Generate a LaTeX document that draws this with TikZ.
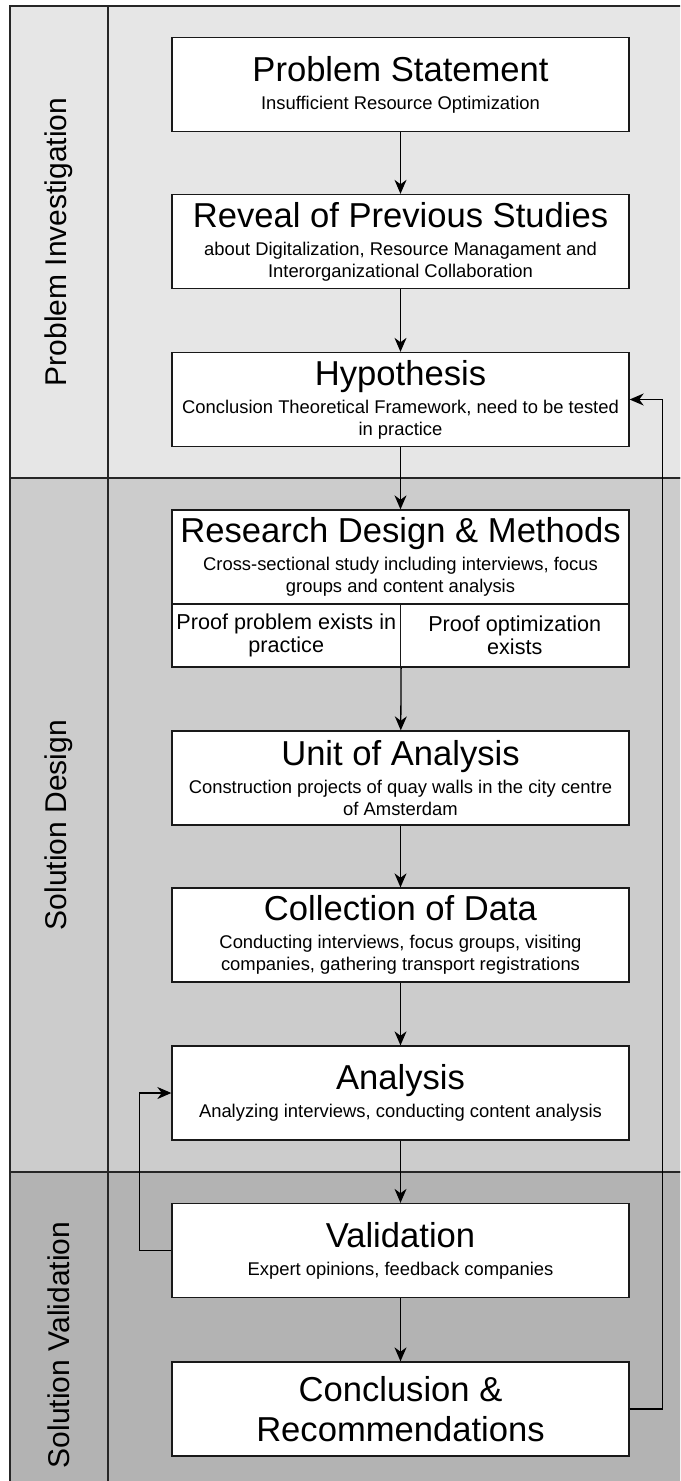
\documentclass[tikz,border=0pt]{standalone}
\usepackage{fontspec}
\setmainfont{Liberation Sans}
\usetikzlibrary{arrows.meta}

\definecolor{laneone}{HTML}{E6E6E6}
\definecolor{lanetwo}{HTML}{CCCCCC}
\definecolor{lanethree}{HTML}{B3B3B3}

\newcommand{\stagehead}{\fontsize{17.3}{20}\selectfont}
\newcommand{\stagesub}{\fontsize{9.2}{11}\selectfont}

\begin{document}
\begin{tikzpicture}[x=0.5pt,y=-0.5pt,
    lane/.style={draw=black!85,line width=0.6pt},
    lanetitle/.style={rotate=90,font=\fontsize{15}{18}\selectfont},
    stage/.style={draw=black!90,line width=0.65pt,fill=white,text width=226pt,inner xsep=1.25pt,inner ysep=1pt,minimum height=47pt,align=flush center},
    cell/.style={draw=black!90,line width=0.65pt,fill=white,text width=113pt,inner xsep=0.6pt,inner ysep=1pt,minimum height=31.5pt,align=flush center,font=\fontsize{10.8}{11.5}\selectfont},
    flow/.style={-{Stealth[length=7pt,width=6pt,inset=2.2pt]},line width=0.65pt}]

    \useasboundingbox (0,0) rectangle (680,1481);
    \clip (0,0) rectangle (680,1481);

    % swimlanes
    \draw[lane,fill=laneone] (10,6) rectangle (700,478);
    \draw[lane,fill=lanetwo] (10,478) rectangle (700,1172);
    \draw[lane,fill=lanethree] (10,1172) rectangle (700,1518);
    \draw[lane] (108,6) -- (108,1518);

    \node[lanetitle] (pi) at (59,242) {Problem Investigation};
    \node[lanetitle] (sd) at (59,825) {Solution Design};
    \node[lanetitle] (sv) at (59,1345) {Solution Validation};

    % stages
    \node[stage] (ps) at (400.5,84.5) {{\stagehead Problem Statement\par}\vspace{3pt}\stagesub Insufficient Resource Optimization\par};
    \node[stage] (reveal) at (400.5,241.5) {{\stagehead Reveal of Previous Studies\par}\vspace{3pt}\stagesub about Digitalization, Resource Managament and\\Interorganizational Collaboration\par};
    \node[stage] (hypo) at (400.5,399.5) {{\stagehead Hypothesis\par}\vspace{3pt}\stagesub Conclusion Theoretical Framework, need to be tested\\in practice\par};
    \node[stage] (design) at (400.5,557) {{\stagehead Research Design \& Methods\par}\vspace{3pt}\stagesub Cross-sectional study including interviews, focus\\groups and content analysis\par};
    \node[cell] (proofa) at (286.25,635.5) {Proof problem exists in\\practice\par};
    \node[cell] (proofb) at (514.75,635.5) {Proof optimization\\exists\par};
    \node[stage] (unit) at (400.5,778) {{\stagehead Unit of Analysis\par}\vspace{3pt}\stagesub Construction projects of quay walls in the city centre\\of Amsterdam\par};
    \node[stage] (collect) at (400.5,935) {{\stagehead Collection of Data\par}\vspace{3pt}\stagesub Conducting interviews, focus groups, visiting\\companies, gathering transport registrations\par};
    \node[stage] (analysis) at (400.5,1093) {{\stagehead Analysis\par}\vspace{3pt}\stagesub Analyzing interviews, conducting content analysis\par};
    \node[stage] (valid) at (400.5,1250.5) {{\stagehead Validation\par}\vspace{3pt}\stagesub Expert opinions, feedback companies\par};
    \node[stage] (concl) at (400.5,1409) {\stagehead Conclusion \&\\Recommendations\par};

    \draw[flow] (ps) -- (reveal);
    \draw[flow] (reveal) -- (hypo);
    \draw[flow] (hypo) -- (design);
    \draw[flow] (proofa.south east) -- (unit);
    \draw[flow] (unit) -- (collect);
    \draw[flow] (collect) -- (analysis);
    \draw[flow] (analysis) -- (valid);
    \draw[flow] (valid) -- (concl);

    % feedback loops
    \draw[flow] (valid.west) -- ++(-32,0) |- (analysis.west);
    \draw[flow] (concl.east) -- ++(33,0) |- (hypo.east);
\end{tikzpicture}
\end{document}
